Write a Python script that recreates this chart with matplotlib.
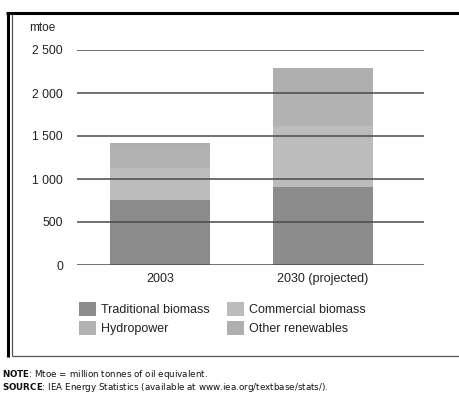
import numpy as np
import matplotlib
matplotlib.use("Agg")
import matplotlib.pyplot as plt
from matplotlib.lines import Line2D
from matplotlib.patches import Patch

plt.rcParams['font.family'] = ['Liberation Sans', 'DejaVu Sans']

# data (mtoe)
years = ['2003', '2030 (projected)']
traditional = [756, 910]
commercial = [368, 710]
hydropower = [227, 370]
other = [64, 297]
series_names = ['Traditional biomass', 'Commercial biomass', 'Hydropower', 'Other renewables']
colors = ['#8c8c8c', '#bcbcbc', '#b2b2b2', '#afafaf']
yticks = [0, 500, 1000, 1500, 2000, 2500]
ytick_labels = ['0', '500', '1 000', '1 500', '2 000', '2 500']

W, H = 459, 393
fig = plt.figure(figsize=(W / 100, H / 100), dpi=100)

# axes placed in pixel terms
ax = fig.add_axes([77 / W, (H - 265) / H, 347 / W, 215 / H])
x = np.arange(len(years))
bottom = np.zeros(len(years))
for vals, c in zip([traditional, commercial, hydropower, other], colors):
    ax.bar(x, vals, width=0.613, bottom=bottom, color=c, zorder=1)
    bottom += np.array(vals)

for v in yticks:
    ax.axhline(v, color='#4a4a4a', linewidth=1.1, zorder=3)

ax.set_xlim(-0.509, 1.620)
ax.set_ylim(0, 2500)
ax.set_yticks(yticks)
ax.set_yticklabels(ytick_labels, fontsize=8.7, color='#222222')
ax.set_xticks(x)
ax.set_xticklabels(years, fontsize=9, color='#222222')
ax.tick_params(axis='y', length=0, pad=10)
ax.tick_params(axis='x', length=0, pad=6)
for s in ax.spines.values():
    s.set_visible(False)

fig.text(29 / W, 1 - 28 / H, 'mtoe', fontsize=8.5, color='#222222', va='center', ha='left')

# legend
handles = [Patch(facecolor=c, edgecolor='none') for c in colors]
order = [0, 2, 1, 3]
fig.legend([handles[i] for i in order], [series_names[i] for i in order],
           ncol=2, frameon=False, loc='upper left',
           bbox_to_anchor=(79 / W, 1 - 302 / H), borderpad=0, borderaxespad=0,
           fontsize=9, handlelength=1.35, handleheight=1.35, handletextpad=0.4,
           columnspacing=1.4, labelspacing=0.4, labelcolor='#222222')

# frame lines
def fline(x0, y0, x1, y1, lw, color):
    fig.add_artist(Line2D([x0 / W, x1 / W], [1 - y0 / H, 1 - y1 / H],
                          transform=fig.transFigure, linewidth=lw, color=color,
                          solid_capstyle='butt'))

fline(6, 13, W, 13, 2.2, 'black')
fline(7.5, 12, 7.5, 357, 2.2, 'black')
fline(11.5, 14, 11.5, 356, 0.9, '#555555')
fline(11.5, 356, W, 356, 0.9, '#555555')

# footer
fig.text(2 / W, 1 - 374.5 / H, r'$\bf{NOTE}$: Mtoe = million tonnes of oil equivalent.',
         fontsize=6.3, family='DejaVu Sans', va='center', ha='left', color='#111111')
fig.text(2 / W, 1 - 387 / H, r'$\bf{SOURCE}$: IEA Energy Statistics (available at www.iea.org/textbase/stats/).',
         fontsize=6.3, family='DejaVu Sans', va='center', ha='left', color='#111111')

fig.savefig('out.png', dpi=100)
